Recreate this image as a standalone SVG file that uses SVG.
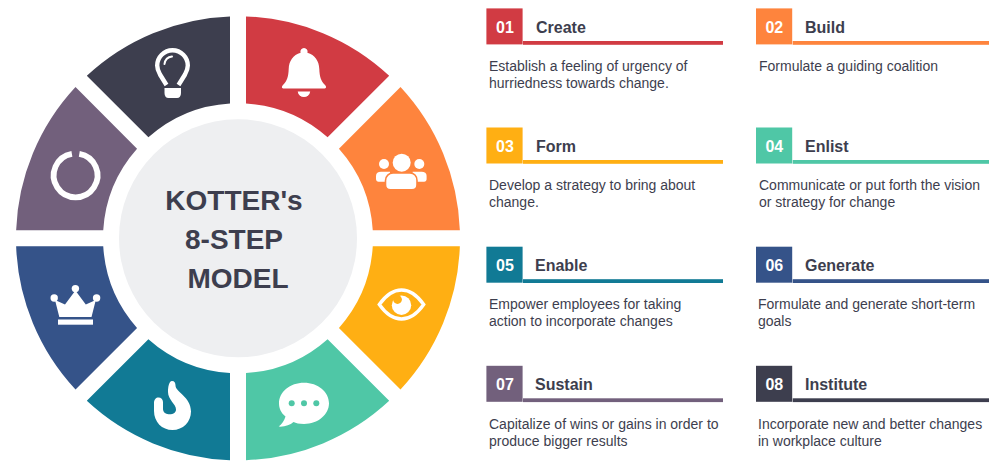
<svg xmlns="http://www.w3.org/2000/svg" width="989" height="474" viewBox="0 0 989 474">
<style>
text{font-family:"Liberation Sans",Arial,sans-serif}
.hub{font-size:28px;font-weight:700;fill:#3d3e4e;text-anchor:middle}
.n{font-size:16px;font-weight:700;fill:#fff;text-anchor:middle}
.t{font-size:16px;font-weight:700;fill:#3d3e4e}
.d{font-size:14px;fill:#3d3e4e}
.w{fill:#fff}
.ws{fill:none;stroke:#fff}
</style>
<rect width="989" height="474" fill="#fff"/>
<g id="hub"><circle cx="238" cy="238.3" r="119" fill="#eeeff1"/>
<text class="hub" x="234" y="210.4">KOTTER's</text><text class="hub" x="234" y="249.4">8-STEP</text><text class="hub" x="238" y="288">MODEL</text></g>
<g id="segment-1"><path fill="#d13b43" d="M246,16.44A222 222 0 0 1 389.2,75.8L327.6,137.35A135 135 0 0 0 246,103.54Z"/>
<path class="w" d="M304,48a3.6,3.6 0 0 1 3.4,4.8C315,55 319,61 319.3,69C319.6,77 321,81 325,85C327,87 326,88.6 324,88.6H284C282,88.6 281,87 283,85C287,81 288.4,77 288.7,69C289,61 293,55 300.6,52.8A3.6,3.6 0 0 1 304,48Z"/><path class="w" d="M297.7,91.5H310.2A6.3,6.3 0 0 1 297.7,91.5Z"/></g>
<g id="segment-2"><path fill="#fe843d" d="M400.5,87.1A222 222 0 0 1 459.86,230.3L372.76,230.3A135 135 0 0 0 338.95,148.7Z"/>
<circle class="w" cx="401.7" cy="162.7" r="9"/><circle class="w" cx="384" cy="164" r="5"/><circle class="w" cx="419.3" cy="164" r="5"/>
<path class="w" d="M376,179V176C376,173 378,171.7 381,171.7H390V181.7H378.5C377,181.7 376,180.5 376,179Z"/>
<path class="w" d="M426.6,179V176C426.6,173 424.6,171.7 421.6,171.7H412.6V181.7H424.1C425.6,181.7 426.6,180.5 426.6,179Z"/>
<path class="w" stroke="#fe843d" stroke-width="1.6" d="M385.5,185V180.5C385.5,176 389,173 393,173H410C414,173 417,176 417,180.5V185C417,188 415,189.8 412,189.8H390.5C387.5,189.8 385.5,188 385.5,185Z"/></g>
<g id="segment-3"><path fill="#ffaf13" d="M459.86,246.3A222 222 0 0 1 400.5,389.5L338.95,327.9A135 135 0 0 0 372.76,246.3Z"/>
<path class="ws" stroke-width="3.4" d="M379.3,304.5C386,295 393,290 401.5,290C410,290 417,295 423.7,304.5C417,314 410,319 401.5,319C393,319 386,314 379.3,304.5Z"/>
<circle class="w" cx="401.5" cy="305.2" r="9.7"/><circle fill="#ffaf13" cx="397.5" cy="299.5" r="4.4"/></g>
<g id="segment-4"><path fill="#4fc7a6" d="M389.2,400.8A222 222 0 0 1 246,460.16L246,373.06A135 135 0 0 0 327.6,339.25Z"/>
<path class="w" d="M304,382.8C318,382.8 329,392 329,403.3C329,414.6 318,424 304,424C299,424 296,423 293.5,422C290,425 285,427 278.7,426.6C282,424 284.5,420 285.5,416.5C281,413 279,408.5 279,403.3C279,392 290,382.8 304,382.8Z"/>
<circle fill="#4fc7a6" cx="291.7" cy="403.3" r="3"/><circle fill="#4fc7a6" cx="304" cy="403.3" r="3"/><circle fill="#4fc7a6" cx="316.3" cy="403.3" r="3"/></g>
<g id="segment-5"><path fill="#117a95" d="M230,460.16A222 222 0 0 1 86.8,400.8L148.4,339.25A135 135 0 0 0 230,373.06Z"/>
<path class="w" d="M172,381C174.5,381 175.5,383 175.5,385.5C175.5,392 191,397 191,411.5C191,422 183,430 172.5,430C162,430 154,422 154,411V403C154,399.5 156,397.5 158.5,397.5C161,397.5 163,399.5 163,402V409C163,412 165.5,414.2 168.5,414.2H171C174,414.2 176,412 176,409.5C176,404 168,400 168,392C168,387 169,381 172,381Z"/></g>
<g id="segment-6"><path fill="#355389" d="M75.5,389.5A222 222 0 0 1 16.14,246.3L103.24,246.3A135 135 0 0 0 137.05,327.9Z"/>
<circle class="w" cx="54.2" cy="298" r="3.7"/><circle class="w" cx="75.4" cy="288.6" r="3.7"/><circle class="w" cx="96.6" cy="298" r="3.7"/>
<path class="w" d="M55,300L65,304.5L75.4,290.5L85.8,304.5L95.8,300L91.5,317H59.3Z"/><rect class="w" x="58" y="319.5" width="35" height="5.2"/></g>
<g id="segment-7"><path fill="#72607c" d="M16.14,230.3A222 222 0 0 1 75.5,87.1L137.05,148.7A135 135 0 0 0 103.24,230.3Z"/>
<path class="ws" stroke-width="5.8" d="M79.3,153.8A21.9 21.9 0 1 1 71.9,153.8"/></g>
<g id="segment-8"><path fill="#3d3e4e" d="M86.8,75.8A222 222 0 0 1 230,16.44L230,103.54A135 135 0 0 0 148.4,137.35Z"/>
<path class="ws" stroke-width="4.4" d="M166.5,85L160,74.5C158,71 157.2,68 157.2,65.5A15.3,15.3 0 0 1 187.8,65.5C187.8,68 187,71 185,74.5L178.5,85"/>
<path class="ws" stroke-width="2" stroke-linecap="round" d="M164.5,64C165,60 168,57 172,56.5"/>
<path class="w" d="M164.5,88H181V93C181,96 179.5,98 177,98H168.5C166,98 164.5,96 164.5,93Z"/></g>
<g id="connectors"></g>
<g id="step-01"><rect x="486.4" y="8.4" width="36.2" height="36" fill="#d13b43"/><rect x="523" y="41" width="200" height="3.8" fill="#d13b43"/><text class="n" x="505" y="33">01</text><text class="t" x="536" y="33.4">Create</text><text class="d" x="489" y="71">Establish a feeling of urgency of</text><text class="d" x="489" y="88">hurriedness towards change.</text></g>
<g id="step-02"><rect x="756" y="8.4" width="36.2" height="36" fill="#fe843d"/><rect x="792.7" y="41" width="196.3" height="3.8" fill="#fe843d"/><text class="n" x="774.3" y="33">02</text><text class="t" x="805" y="33.4">Build</text><text class="d" x="759" y="71">Formulate a guiding coalition</text></g>
<g id="step-03"><rect x="486.4" y="127.5" width="36.2" height="36" fill="#ffaf13"/><rect x="523" y="160" width="200" height="3.8" fill="#ffaf13"/><text class="n" x="505" y="152">03</text><text class="t" x="536" y="152.4">Form</text><text class="d" x="489" y="190">Develop a strategy to bring about</text><text class="d" x="489" y="207">change.</text></g>
<g id="step-04"><rect x="756" y="127.5" width="36.2" height="36" fill="#4fc7a6"/><rect x="792.7" y="160" width="196.3" height="3.8" fill="#4fc7a6"/><text class="n" x="774.3" y="152">04</text><text class="t" x="805" y="152.4">Enlist</text><text class="d" x="759" y="190">Communicate or put forth the vision</text><text class="d" x="759" y="207">or strategy for change</text></g>
<g id="step-05"><rect x="486.4" y="246.7" width="36.2" height="36" fill="#117a95"/><rect x="523" y="279.2" width="200" height="3.8" fill="#117a95"/><text class="n" x="505" y="271">05</text><text class="t" x="535" y="271.4">Enable</text><text class="d" x="489" y="309">Empower employees for taking</text><text class="d" x="489" y="326">action to incorporate changes</text></g>
<g id="step-06"><rect x="756" y="246.7" width="36.2" height="36" fill="#355389"/><rect x="792.7" y="279.2" width="196.3" height="3.8" fill="#355389"/><text class="n" x="774.3" y="271">06</text><text class="t" x="805" y="271.4">Generate</text><text class="d" x="758" y="309">Formulate and generate short-term</text><text class="d" x="758" y="326">goals</text></g>
<g id="step-07"><rect x="486.4" y="365.8" width="36.2" height="36" fill="#72607c"/><rect x="523" y="398.3" width="200" height="3.8" fill="#72607c"/><text class="n" x="505" y="390">07</text><text class="t" x="535" y="390.4">Sustain</text><text class="d" x="489" y="429">Capitalize of wins or gains in order to</text><text class="d" x="489" y="446">produce bigger results</text></g>
<g id="step-08"><rect x="756" y="365.8" width="36.2" height="36" fill="#3d3e4e"/><rect x="792.7" y="398.3" width="196.3" height="3.8" fill="#3d3e4e"/><text class="n" x="774.3" y="390">08</text><text class="t" x="805" y="390.4">Institute</text><text class="d" x="758" y="429">Incorporate new and better changes</text><text class="d" x="758" y="446">in workplace culture</text></g>
</svg>
